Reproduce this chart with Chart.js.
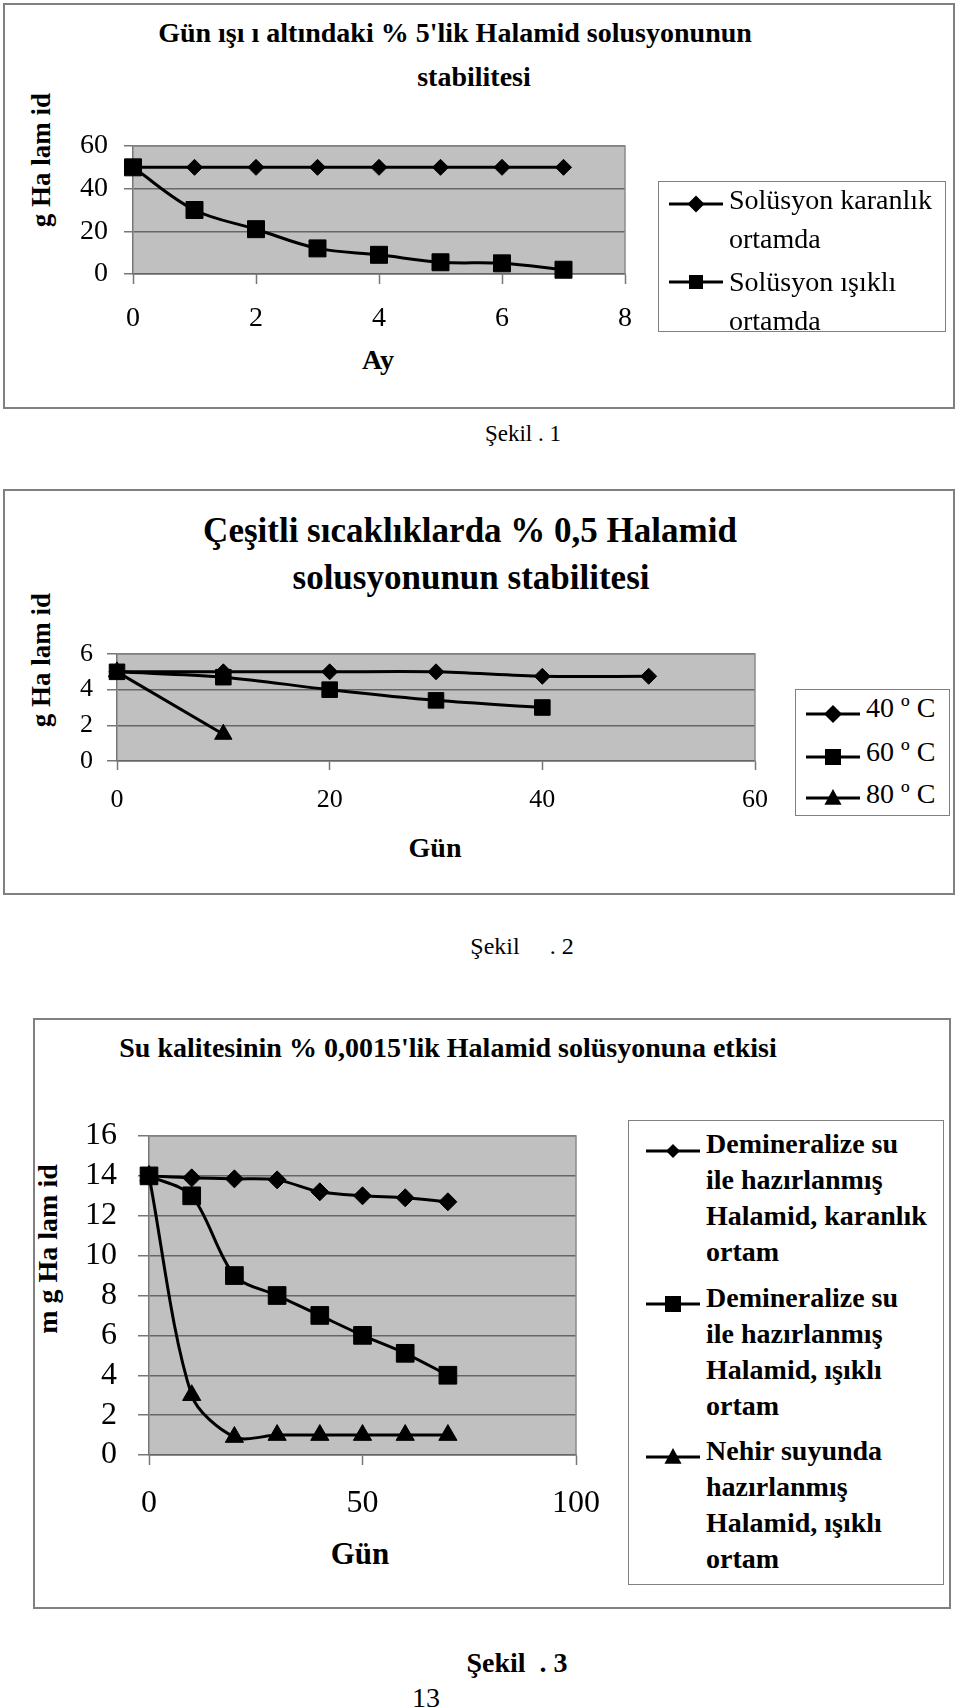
<!DOCTYPE html>
<html lang="tr">
<head>
<meta charset="utf-8">
<script src="https://cdn.jsdelivr.net/npm/chart.js@4.4.0/dist/chart.umd.min.js"></script>
<style>
    body { margin: 0; width: 960px; height: 1708px; background: #fff; position: relative; overflow: hidden;
           font-family: "Liberation Serif", "Times New Roman", serif; color: #000; }
    .frame { position: absolute; border: 2px solid #808080; box-sizing: border-box; }
    .t { position: absolute; white-space: pre; line-height: 1; transform: translate(-50%, -50%); }
    .b { font-weight: bold; }
    .rot { transform: translate(-50%, -50%) rotate(-90deg); }
    canvas { position: absolute; }
    .legend { position: absolute; border: 1.5px solid #808080; box-sizing: border-box; background: #fff; }
    .legend svg, .legend .txt { position: absolute; }
    .legend .txt { white-space: nowrap; }
</style>
</head>
<body>
<!-- Şekil 1 -->
<div class="frame" style="left:3px;top:3px;width:952px;height:406px"></div>
<div class="t b" style="left:455px;top:33px;font-size:28px">Gün ışı ı altındaki % 5'lik Halamid solusyonunun</div>
<div class="t b" style="left:474px;top:77px;font-size:28px">stabilitesi</div>
<div class="t b rot" style="left:41px;top:160px;font-size:27px">g Ha lam id</div>
<div class="t b" style="left:378px;top:360px;font-size:28px">Ay</div>
<canvas id="grafico1" width="605" height="240" style="left:60px;top:100px"></canvas>
<div class="legend" id="legenda1" style="left:658px;top:181px;width:288px;height:151px"></div>
<div class="t" style="left:523px;top:433px;font-size:23px">Şekil . 1</div>

<!-- Şekil 2 -->
<div class="frame" style="left:3px;top:489px;width:952px;height:406px"></div>
<div class="t b" style="left:470px;top:530px;font-size:35px">Çeşitli sıcaklıklarda % 0,5 Halamid</div>
<div class="t b" style="left:471px;top:577px;font-size:35px">solusyonunun stabilitesi</div>
<div class="t b rot" style="left:41px;top:660px;font-size:27px">g Ha lam id</div>
<div class="t b" style="left:435px;top:848px;font-size:28px">Gün</div>
<canvas id="grafico2" width="755" height="220" style="left:40px;top:610px"></canvas>
<div class="legend" id="legenda2" style="left:795px;top:689px;width:155px;height:127px"></div>
<div class="t" style="left:522px;top:946px;font-size:24px">Şekil     . 2</div>

<!-- Şekil 3 -->
<div class="frame" style="left:33px;top:1018px;width:918px;height:591px"></div>
<div class="t b" style="left:448px;top:1048px;font-size:28px">Su kalitesinin % 0,0015'lik Halamid solüsyonuna etkisi</div>
<div class="t b rot" style="left:48px;top:1249px;font-size:28px">m g Ha lam id</div>
<div class="t b" style="left:360px;top:1553px;font-size:31px">Gün</div>
<canvas id="grafico3" width="586" height="450" style="left:50px;top:1080px"></canvas>
<div class="legend" id="legenda3" style="left:628px;top:1120px;width:316px;height:465px"></div>
<div class="t b" style="left:517px;top:1663px;font-size:28px">Şekil  . 3</div>
<div class="t" style="left:426px;top:1698px;font-size:28px">13</div>

<script>
// --- Şekil 1: dados ---
const ay1 = [0, 1, 2, 3, 4, 5, 6, 7];
const karanlik1 = [50, 50, 50, 50, 50, 50, 50, 50];
const isikli1 = [50, 30, 21, 12, 9, 5.5, 5, 2];
const xTicks1 = [0, 2, 4, 6, 8];
const yTicks1 = [0, 20, 40, 60];
const nomes1 = [['Solüsyon karanlık', 'ortamda'], ['Solüsyon ışıklı', 'ortamda']];

// --- Şekil 2: dados ---
const gun40 = [0, 10, 20, 30, 40, 50];
const c40 = [5, 5, 5, 5, 4.75, 4.75];
const gun60 = [0, 10, 20, 30, 40];
const c60 = [5, 4.7, 4, 3.4, 3];
const gun80 = [0, 10];
const c80 = [5, 1.5];
const xTicks2 = [0, 20, 40, 60];
const yTicks2 = [0, 2, 4, 6];
const nomes2 = [['40 º C'], ['60 º C'], ['80 º C']];

// --- Şekil 3: dados ---
const gun3 = [0, 10, 20, 30, 40, 50, 60, 70];
const demKaranlik = [14, 13.9, 13.85, 13.8, 13.2, 13, 12.9, 12.7];
const demIsikli = [14, 13, 9, 8, 7, 6, 5.1, 4];
const nehirIsikli = [14, 3, 0.9, 1, 1, 1, 1, 1];
const xTicks3 = [0, 50, 100];
const yTicks3 = [0, 2, 4, 6, 8, 10, 12, 14, 16];
const nomes3 = [
    ['Demineralize su', 'ile hazırlanmış', 'Halamid, karanlık', 'ortam'],
    ['Demineralize su', 'ile hazırlanmış', 'Halamid, ışıklı', 'ortam'],
    ['Nehir suyunda', 'hazırlanmış', 'Halamid, ışıklı', 'ortam']
];

const FONTE = '"Liberation Serif", "Times New Roman", serif';

// fundo cinza da área do gráfico + borda superior/direita
const fundoPlot = {
    id: 'fundoPlot',
    beforeDraw(chart) {
        const { ctx, chartArea: a } = chart;
        ctx.save();
        ctx.fillStyle = '#c0c0c0';
        ctx.fillRect(a.left, a.top, a.width, a.height);
        ctx.restore();
    },
    beforeDatasetsDraw(chart) {
        const { ctx, chartArea: a } = chart;
        ctx.save();
        ctx.strokeStyle = '#8a8a8a';
        ctx.lineWidth = 1.5;
        ctx.beginPath();
        ctx.moveTo(a.left, a.top);
        ctx.lineTo(a.right, a.top);
        ctx.lineTo(a.right, a.bottom);
        ctx.stroke();
        ctx.restore();
    }
};

const pontos = (xs, ys) => xs.map((x, i) => ({ x, y: ys[i] }));

const serie = (label, xs, ys, estilo, raio, ordem, tensao) => ({
    label,
    data: pontos(xs, ys),
    pointStyle: estilo,
    pointRadius: raio,
    pointHoverRadius: raio,
    borderColor: '#000',
    backgroundColor: '#000',
    pointBackgroundColor: '#000',
    pointBorderColor: '#000',
    pointBorderWidth: 1,
    borderWidth: 3,
    tension: tensao,
    clip: false,
    order: ordem
});

const criarGrafico = (id, datasets, o) => new Chart(document.getElementById(id), {
    type: 'line',
    data: { datasets },
    plugins: [fundoPlot],
    options: {
        responsive: false,
        animation: false,
        events: [],
        layout: { padding: { top: o.padTop, right: o.padRight, left: 0, bottom: 0 } },
        plugins: { legend: { display: false }, tooltip: { enabled: false } },
        scales: {
            x: {
                type: 'linear',
                min: o.xt[0],
                max: o.xt[o.xt.length - 1],
                ticks: { stepSize: o.xt[1] - o.xt[0], color: '#000', font: { family: FONTE, size: o.fx },
                         padding: o.xpad, maxRotation: 0, autoSkip: false },
                grid: { drawOnChartArea: false, tickLength: o.xtl, tickColor: '#777', tickWidth: 1.5 },
                border: { color: '#666', width: 1.5 },
                afterFit: (s) => { s.height = o.xh; }
            },
            y: {
                type: 'linear',
                min: o.yt[0],
                max: o.yt[o.yt.length - 1],
                ticks: { stepSize: o.yt[1] - o.yt[0], color: '#000', font: { family: FONTE, size: o.fy },
                         padding: o.ypad, autoSkip: false },
                grid: { color: '#666', lineWidth: 1.5, tickLength: o.ytl, tickColor: '#777', tickWidth: 1.5 },
                border: { color: '#777', width: 1.5 },
                afterFit: (s) => { s.width = o.yw; }
            }
        }
    }
});

// marcador da legenda em SVG
const marcador = (estilo, r) => {
    const cx = 27, cy = 12;
    let forma = '';
    if (estilo === 'rectRot') {
        forma = `<polygon points="${cx},${cy - r} ${cx + r},${cy} ${cx},${cy + r} ${cx - r},${cy}" fill="#000"/>`;
    } else if (estilo === 'rect') {
        forma = `<rect x="${cx - r}" y="${cy - r}" width="${2 * r}" height="${2 * r}" fill="#000"/>`;
    } else {
        forma = `<polygon points="${cx},${cy - r} ${cx + r * 0.95},${cy + r * 0.75} ${cx - r * 0.95},${cy + r * 0.75}" fill="#000"/>`;
    }
    return `<svg width="54" height="24" viewBox="0 0 54 24"><line x1="0" y1="${cy}" x2="54" y2="${cy}" stroke="#000" stroke-width="3"/>${forma}</svg>`;
};

const montarLegenda = (id, nomes, estilos, raios, o) => {
    const box = document.getElementById(id);
    const r = box.getBoundingClientRect();
    nomes.forEach((linhas, i) => {
        const yTexto = o.linhas[i] - r.top;
        const yMarca = o.marcas[i] - r.top;
        const svg = document.createElement('div');
        svg.innerHTML = marcador(estilos[i], raios[i]);
        const el = svg.firstChild;
        el.style.left = (o.marcaX - 27 - r.left) + 'px';
        el.style.top = (yMarca - 12) + 'px';
        box.appendChild(el);
        const txt = document.createElement('div');
        txt.className = 'txt';
        txt.innerHTML = linhas.join('<br>');
        txt.style.left = (o.textoX - r.left) + 'px';
        txt.style.top = (yTexto - o.lh / 2) + 'px';
        txt.style.lineHeight = o.lh + 'px';
        txt.style.fontSize = o.fs + 'px';
        txt.style.fontWeight = o.bold ? 'bold' : 'normal';
        box.appendChild(txt);
    });
};

// --- Gráfico 1 ---
criarGrafico('grafico1', [
    serie(nomes1[0].join(' '), ay1, karanlik1, 'rectRot', 8, 1, 0),
    serie(nomes1[1].join(' '), ay1, isikli1, 'rect', 12, 0, 0.35)
], { xt: xTicks1, yt: yTicks1, padTop: 46, padRight: 40, yw: 73, xh: 66,
     fx: 28, fy: 28, xpad: 18, xtl: 10, ypad: 16, ytl: 9 });

// --- Gráfico 2 ---
criarGrafico('grafico2', [
    serie(nomes2[0][0], gun40, c40, 'rectRot', 8, 2, 0.3),
    serie(nomes2[1][0], gun60, c60, 'rect', 11, 0, 0.35),
    serie(nomes2[2][0], gun80, c80, 'triangle', 10, 1, 0)
], { xt: xTicks2, yt: yTicks2, padTop: 44, padRight: 40, yw: 77, xh: 69,
     fx: 26, fy: 26, xpad: 15, xtl: 9, ypad: 14, ytl: 10 });

// --- Gráfico 3 ---
criarGrafico('grafico3', [
    serie(nomes3[0].join(' '), gun3, demKaranlik, 'rectRot', 9, 2, 0.3),
    serie(nomes3[1].join(' '), gun3, demIsikli, 'rect', 12.5, 0, 0.3),
    serie(nomes3[2].join(' '), gun3, nehirIsikli, 'triangle', 10.5, 1, 0.3)
], { xt: xTicks3, yt: yTicks3, padTop: 56, padRight: 60, yw: 99, xh: 75,
     fx: 32, fy: 32, xpad: 19, xtl: 10, ypad: 21, ytl: 11 });

// --- Legendas ---
montarLegenda('legenda1', nomes1, ['rectRot', 'rect'], [8.5, 7],
    { linhas: [198, 280], marcas: [203, 281], marcaX: 695, textoX: 728, lh: 39, fs: 28, bold: false });
montarLegenda('legenda2', nomes2, ['rectRot', 'rect', 'triangle'], [9, 8, 9],
    { linhas: [707, 751, 793], marcas: [713, 756, 797], marcaX: 832, textoX: 865, lh: 42, fs: 28, bold: false });
montarLegenda('legenda3', nomes3, ['rectRot', 'rect', 'triangle'], [7, 8, 9],
    { linhas: [1143, 1297, 1450], marcas: [1150, 1303, 1456], marcaX: 672, textoX: 705, lh: 36, fs: 28, bold: true });
</script>
</body>
</html>
